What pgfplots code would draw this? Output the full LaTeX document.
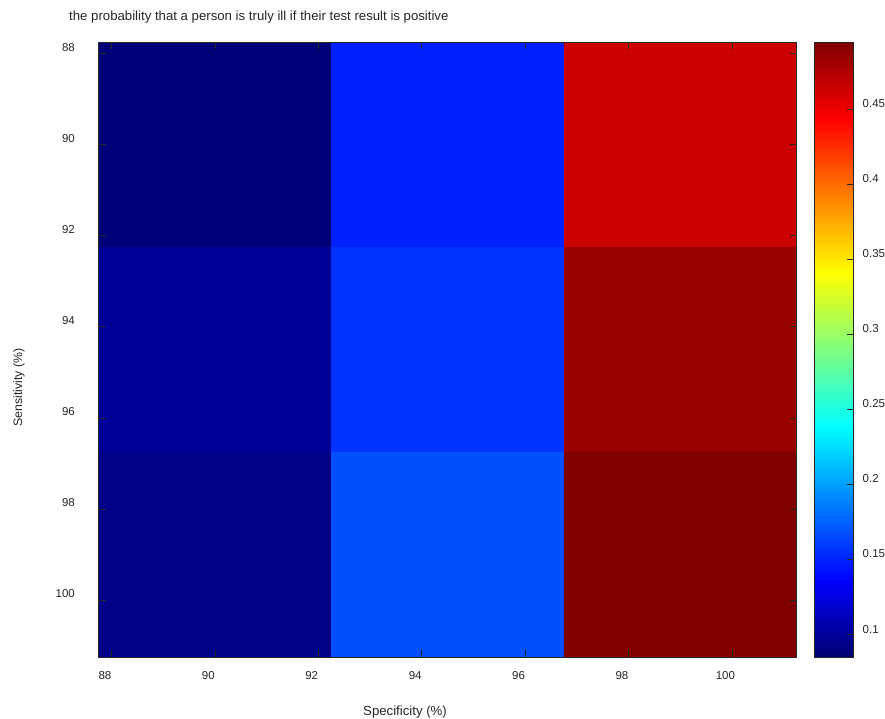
\documentclass[border=0pt]{standalone}
\usepackage{fontspec}
\setmainfont{Liberation Sans}
\usepackage{pgfplots}
\pgfplotsset{compat=1.18}
\definecolor{txt}{HTML}{262626}
\newcommand{\lblfont}{\fontsize{11.5}{13}\selectfont}
\newcommand{\bigfont}{\fontsize{13.2}{15}\selectfont}
\newcommand{\yfont}{\fontsize{12.3}{14}\selectfont}
\begin{document}
\lblfont
\begin{tikzpicture}
\path[use as bounding box] (-98.7pt,-61pt) rectangle (786.3pt,657pt);
\begin{axis}[
  at={(0pt,0pt)}, anchor=south west,
  scale only axis, width=698pt, height=614.7pt,
  xmin=87.75, xmax=101.25, ymin=87.75, ymax=101.25,
  y dir=reverse,
  xtick={88,90,92,94,96,98,100}, ytick={88,90,92,94,96,98,100},
  tick align=inside, major tick length=7pt,
  axis line style={txt, line width=0.8pt},
  every tick/.style={txt, line width=0.8pt},
  axis on top,
  colormap={myjet}{rgb255(0cm)=(0,0,112); rgb255(1cm)=(0,0,255); rgb255(3cm)=(0,255,255); rgb255(5cm)=(255,255,0); rgb255(7cm)=(255,0,0); rgb255(8cm)=(128,0,0)},
  point meta min=0.0847, point meta max=0.4944,
  /pgf/number format/assume math mode=true,
  tick label style={font=\lblfont, text=txt},
  xticklabel style={inner sep=0pt, anchor=north, yshift=-14pt, xshift=-6.7pt},
  yticklabel style={inner sep=0pt, anchor=east, xshift=-23.7pt, yshift=6.6pt},
  colorbar,
  colorbar/width=39pt,
  colorbar style={
    at={(parent axis.north east)}, anchor=north west, xshift=9.6pt,
    ytick={0.1,0.15,0.2,0.25,0.3,0.35,0.4,0.45},
    yticklabels={0.1,0.15,0.2,0.25,0.3,0.35,0.4,0.45},
    tick align=inside, major tick length=7pt,
    yticklabel pos=right, ytick pos=right,
    axis line style={txt, line width=0.8pt},
    every tick/.style={txt, line width=0.8pt},
    tick label style={font=\lblfont, text=txt},
    yticklabel style={inner sep=0pt, anchor=west, xshift=8.7pt, yshift=5pt},
  },
]
\addplot[matrix plot*, mesh/cols=3, point meta=explicit] table[meta=c] {
x y c
90 90 0.0872
94.5 90 0.1486
99 90 0.4637
90 94.5 0.0994
94.5 94.5 0.1564
99 94.5 0.4842
90 99 0.0933
94.5 99 0.1679
99 99 0.4944
};
\end{axis}
\node[anchor=west, font=\bigfont, text=txt, inner sep=0pt] at (-29.7pt,640pt) {the probability that a person is truly ill if their test result is positive};
\node[font=\bigfont, text=txt, inner sep=0pt] at (306.3pt,-55pt) {Specificity (\%)};
\node[rotate=90, font=\yfont, text=txt, inner sep=0pt] at (-79.7pt,269.5pt) {Sensitivity (\%)};
\end{tikzpicture}
\end{document}
